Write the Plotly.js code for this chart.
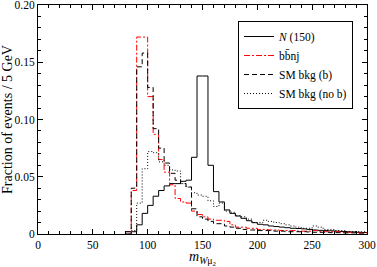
<!DOCTYPE html>
<html>
<head>
<meta charset="utf-8">
<script src="https://cdn.plot.ly/plotly-3.0.1.min.js"></script>
<style>html,body{margin:0;padding:0;background:#fff}#chart{width:377px;height:267px}</style>
</head>
<body>
<div id="chart"></div>
<script>
// bin edges (GeV), 5 GeV bins; last edge closes the final bin
const binEdges = [80,85,90,95,100,105,110,115,120,125,130,135,140,145,150,155,160,165,170,175,180,185,190,195,200,205,210,215,220,225,230,235,240,245,250,255,260,265,270,275,280,285,290,295,300];

const seriesNames = ["<i>N</i> (150)", "bb\u0304nj", "SM bkg (b)", "SM bkg (no b)"];

const signalN150 = [0,0.002,0.008,0.018,0.025,0.033,0.038,0.042,0.044,0.044,0.046,0.047,0.067,0.138,0.138,0.060,0.037,0.028,0.021,0.018,0.0157,0.0137,0.0116,0.0099,0.0085,0.008,0.007,0.0065,0.006,0.0055,0.005,0.0048,0.0045,0.004,0.0035,0.0032,0.003,0.0028,0.0025,0.0022,0.002,0.0018,0.0015,0.0013];

const bbnj = [0.002,0.038,0.172,0.172,0.120,0.087,0.065,0.054,0.043,0.031,0.028,0.027,0.020,0.017,0.015,0.013,0.012,0.012,0.011,0.008,0.006,0.006,0.005,0.005,0.004,0.004,0.0035,0.0035,0.003,0.003,0.003,0.0025,0.0025,0.0025,0.003,0.002,0.002,0.002,0.002,0.0015,0.0015,0.0015,0.001,0.001];

const smBkgB = [0.002,0.040,0.146,0.158,0.128,0.092,0.075,0.062,0.053,0.047,0.044,0.041,0.022,0.015,0.013,0.011,0.009,0.009,0.007,0.006,0.005,0.004,0.0035,0.0035,0.003,0.003,0.003,0.0025,0.0025,0.002,0.002,0.002,0.002,0.0018,0.0015,0.0015,0.0015,0.0012,0.0012,0.001,0.001,0.001,0.0008,0.0008];

const smBkgNoB = [0,0.003,0.027,0.057,0.072,0.071,0.063,0.060,0.056,0.055,0.044,0.041,0.036,0.034,0.033,0.029,0.024,0.027,0.020,0.019,0.016,0.015,0.013,0.010,0.010,0.012,0.011,0.010,0.009,0.008,0.007,0.006,0.005,0.005,0.007,0.006,0.004,0.004,0.003,0.003,0.002,0.002,0.002,0.002];

const yTickVals = [0,0.05,0.10,0.15,0.20];
const yTickText = ["0","0.05","0.10","0.15","0.20"];
const xTickVals = [0,50,100,150,200,250,300];

function stepY(v){ return v.concat([v[v.length-1]]); }

const styles = [
  {color:"#000000", dash:"solid", width:1},
  {color:"#ff0000", dash:"6px,2px,2px,2px", width:1},
  {color:"#000000", dash:"5px,3px", width:1},
  {color:"#000000", dash:"1px,2px", width:1}
];
const allSeries = [signalN150, bbnj, smBkgB, smBkgNoB];

const traces = allSeries.map((s,i)=>({
  x: binEdges, y: stepY(s), type:"scatter", mode:"lines",
  line:{shape:"hv", color:styles[i].color, dash:styles[i].dash, width:styles[i].width},
  name: seriesNames[i], hoverinfo:"skip"
}));
// invisible helper trace on the mirrored axes so they draw their ticks
traces.push({x:[0], y:[0], xaxis:"x2", yaxis:"y2", type:"scatter", mode:"none", showlegend:false, hoverinfo:"skip"});

const FAM = "Liberation Serif";
const font = {family:FAM, color:"#000", size:11};

const axisCommon = {showgrid:false, zeroline:false, ticks:"inside", ticklen:5, tickcolor:"#000", tickwidth:1};

const layout = {
  width:377, height:267,
  margin:{l:38, r:10, t:5, b:33},
  paper_bgcolor:"#fff", plot_bgcolor:"#fff",
  font: font,
  showlegend:true,
  legend:{x:0.608, y:0.93, xanchor:"left", yanchor:"top", bgcolor:"#fff",
          bordercolor:"#000", borderwidth:1, itemwidth:30,
          font:{family:FAM, size:11.5, color:"#000"}, tracegroupgap:0},
  xaxis:Object.assign({}, axisCommon, {range:[0,300], showline:true, linecolor:"#000", linewidth:1, mirror:true,
         tickvals:xTickVals, ticktext:xTickVals.map(String), tickfont:{family:FAM, size:11.5, color:"#000"},
         ticklabeloverflow:"allow",
         minor:{dtick:10, ticks:"inside", ticklen:3, tickcolor:"#000"},
         title:{text:"<i>m</i><sub><i>W</i>\u03bc<sub>2</sub></sub>", font:{family:FAM, size:14, color:"#000"}, standoff:2}}),
  yaxis:Object.assign({}, axisCommon, {range:[0,0.20], showline:true, linecolor:"#000", linewidth:1, mirror:true,
         tickvals:yTickVals, ticktext:yTickText, tickfont:{family:FAM, size:11.5, color:"#000"},
         ticklabeloverflow:"allow",
         minor:{dtick:0.01, ticks:"inside", ticklen:3, tickcolor:"#000"},
         title:{text:"Fraction of events / 5 GeV", font:{family:FAM, size:14, color:"#000"}, standoff:3}}),
  xaxis2:Object.assign({}, axisCommon, {range:[0,300], overlaying:"x", side:"top", anchor:"y2",
         tickvals:xTickVals, showticklabels:false,
         minor:{dtick:10, ticks:"inside", ticklen:3, tickcolor:"#000"}}),
  yaxis2:Object.assign({}, axisCommon, {range:[0,0.20], overlaying:"y", side:"right", anchor:"x2",
         tickvals:yTickVals, showticklabels:false,
         minor:{dtick:0.01, ticks:"inside", ticklen:3, tickcolor:"#000"}})
};

Plotly.newPlot("chart", traces, layout, {staticPlot:true, displayModeBar:false});
</script>
</body>
</html>
